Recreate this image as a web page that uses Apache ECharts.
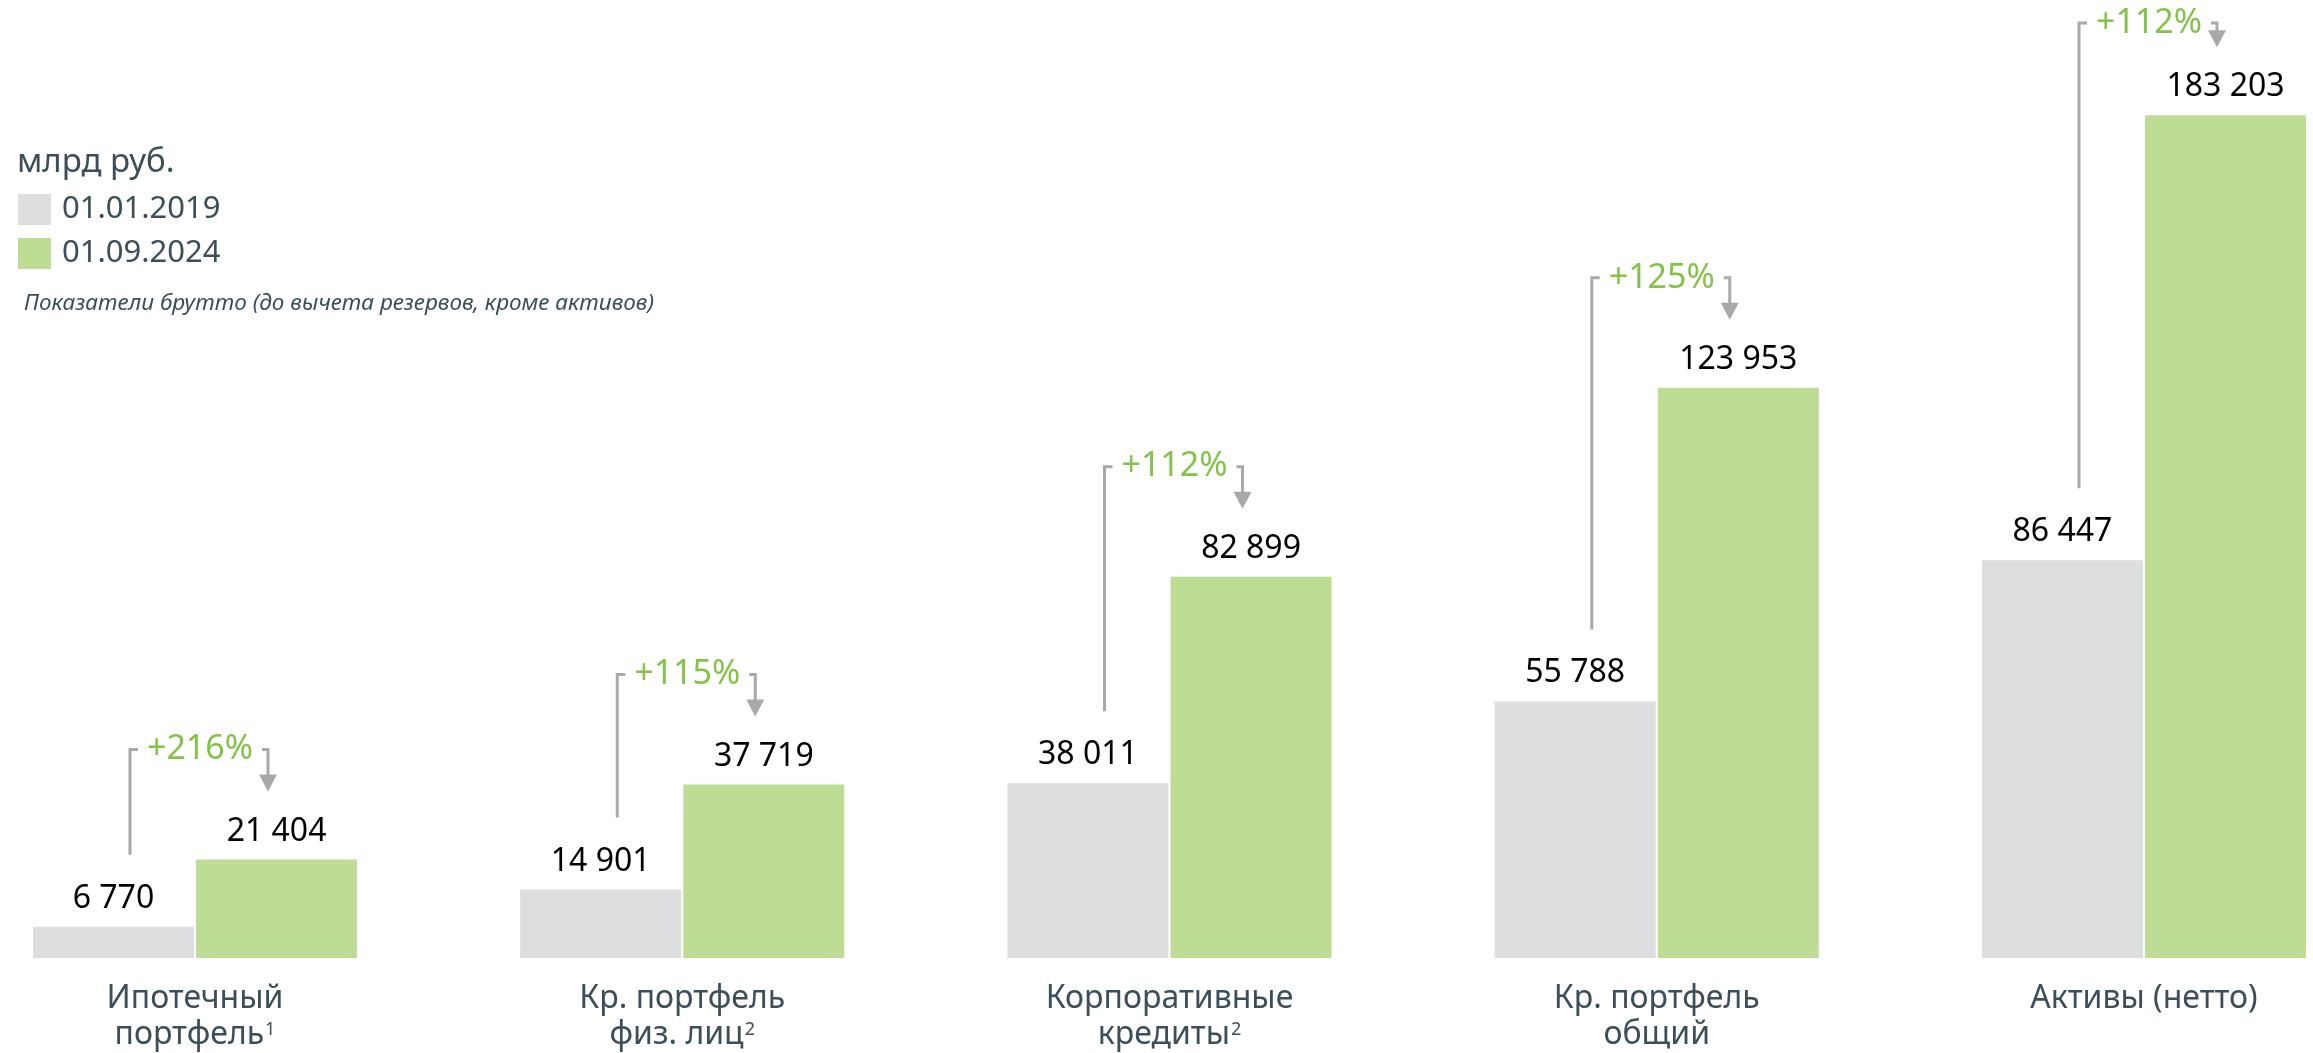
<!DOCTYPE html>
<html><head><meta charset="utf-8">
<script src="https://cdn.jsdelivr.net/npm/echarts@6/dist/echarts.min.js"></script>
<style>html,body{margin:0;padding:0;background:#fff}#c{width:2313px;height:1053px}</style>
</head><body><div id="c"></div>
<script>
const categories = ['Ипотечный\nпортфель', 'Кр. портфель\nфиз. лиц', 'Корпоративные\nкредиты', 'Кр. портфель\nобщий', 'Активы (нетто)'];
const footnotes = ['1', '2', '2', '', ''];
const seriesNames = ['01.01.2019', '01.09.2024'];
const values2019 = [6770, 14901, 38011, 55788, 86447];
const values2024 = [21404, 37719, 82899, 123953, 183203];
const growthLabels = ['+216%', '+115%', '+112%', '+125%', '+112%'];
const unitLabel = 'млрд руб.';
const noteLabel = 'Показатели брутто (до вычета резервов, кроме активов)';

const FONT = '"Noto Sans", "Open Sans", sans-serif';
const TXT = '#3c4e58';
const GRAY = '#dddee0';
const GREEN = '#bedd94';
const LINE = '#a7a9ab';
const PCT = '#84c24a';

const fmt = v => String(v).replace(/\B(?=(\d{3})+(?!\d))/g, ' ');

const chart = echarts.init(document.getElementById('c'));
chart.setOption({
  animation: false,
  backgroundColor: '#fff',
  title: [
    { text: unitLabel, left: 17, top: 146, padding: 0,
      textStyle: { fontSize: 33, fontWeight: 'normal', color: TXT, fontFamily: FONT } },
    { text: noteLabel, left: 24, top: 292, padding: 0,
      textStyle: { fontSize: 22.5, fontStyle: 'italic', fontWeight: 'normal', color: TXT, fontFamily: FONT } }
  ],
  legend: {
    data: seriesNames, orient: 'vertical', left: 18, top: 194, padding: 0,
    icon: 'rect', itemWidth: 33, itemHeight: 31, itemGap: 13,
    textStyle: { fontSize: 31, color: TXT, fontFamily: FONT, padding: [0, 0, 0, 6] }
  },
  grid: { left: 195, right: 169, top: 38, bottom: 95 },
  xAxis: {
    type: 'category', data: categories, boundaryGap: false,
    axisLine: { show: false }, axisTick: { show: false }, splitLine: { show: false },
    axisLabel: {
      margin: 23, interval: 0,
      formatter: (value, idx) => {
        const lines = value.split('\n');
        return lines.map((l, i) => (i === lines.length - 1 && footnotes[idx])
          ? '{a|' + l + '}{s|' + footnotes[idx] + '}' : '{a|' + l + '}').join('\n');
      },
      rich: {
        a: { fontSize: 32, lineHeight: 36, color: TXT, fontFamily: FONT },
        s: { fontSize: 18, lineHeight: 36, color: TXT, fontFamily: FONT, verticalAlign: 'top', padding: [4, 0, 0, 1] }
      }
    }
  },
  yAxis: { type: 'value', min: 0, max: 200000, show: false, splitLine: { show: false } },
  series: [
    {
      name: seriesNames[0], type: 'bar', data: values2019, barWidth: 161, barGap: '1.3%',
      itemStyle: { color: GRAY },
      label: { show: true, position: 'top', distance: 12, color: '#000', fontSize: 32, fontFamily: FONT, formatter: p => fmt(p.value) }
    },
    {
      name: seriesNames[1], type: 'bar', data: values2024, barWidth: 161,
      itemStyle: { color: GREEN },
      label: { show: true, position: 'top', distance: 12, color: '#000', fontSize: 32, fontFamily: FONT, formatter: p => fmt(p.value) }
    },
    {
      type: 'custom', z: 10, silent: true,
      data: values2019.map((v, i) => [i, v, values2024[i]]),
      renderItem: (params, api) => {
        const i = api.value(0);
        const pG = api.coord([i, api.value(1)]);
        const pN = api.coord([i, api.value(2)]);
        const cx = pG[0];
        const lx = cx - 65, ax = cx + 73;
        const by = Math.max(pN[1] - 110, 23);
        const lineBottom = pG[1] - 72;
        const tipY = pN[1] - 68;
        const mid = (lx + ax) / 2 + 1;
        const tw = 55;
        const st = { stroke: LINE, lineWidth: 3, fill: null };
        return {
          type: 'group', children: [
            { type: 'polyline', shape: { points: [[lx, lineBottom], [lx, by], [mid - tw - 7, by]] }, style: st },
            { type: 'polyline', shape: { points: [[mid + tw + 7, by], [ax, by], [ax, tipY - 15]] }, style: st },
            { type: 'polygon', shape: { points: [[ax - 9, tipY - 17], [ax + 9, tipY - 17], [ax, tipY]] }, style: { fill: LINE } },
            { type: 'text', x: mid, y: by, style: { text: growthLabels[i], fill: PCT, fontSize: 34, fontFamily: FONT, align: 'center', verticalAlign: 'middle' } }
          ]
        };
      }
    }
  ]
});
</script>
</body></html>
